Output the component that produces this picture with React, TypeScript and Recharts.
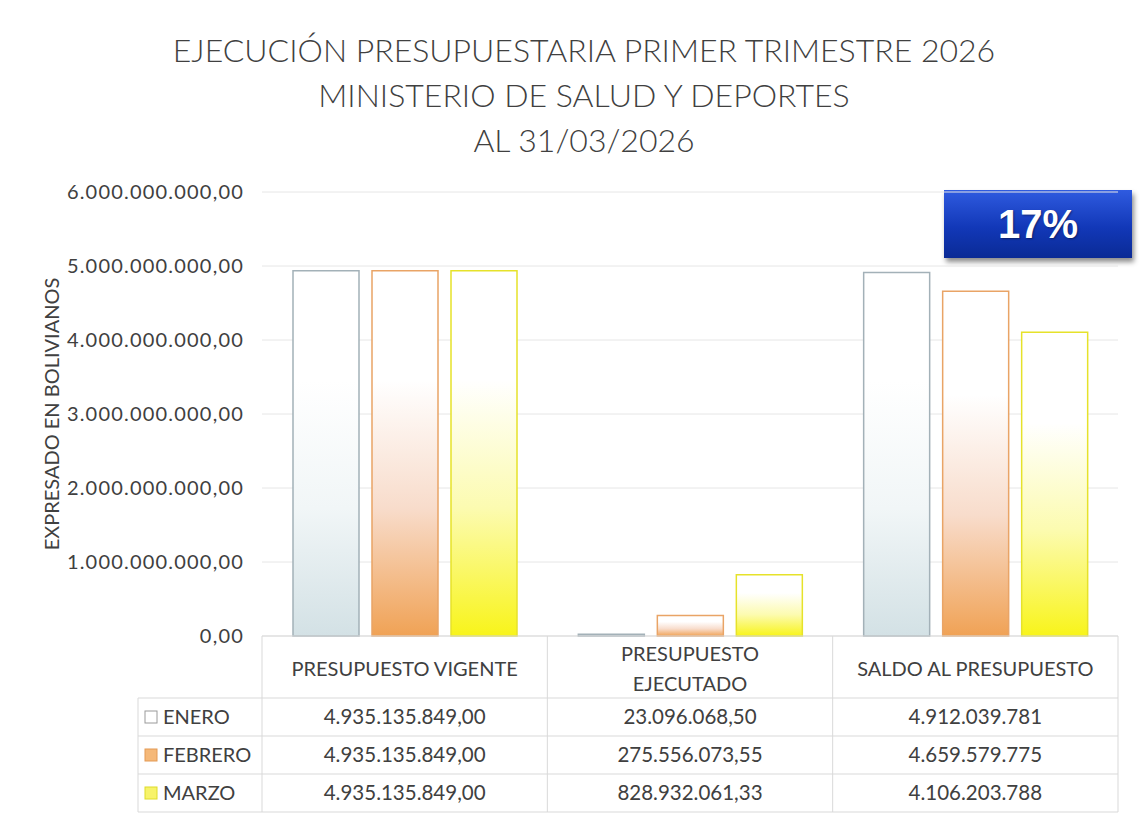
import React from "react";
import { BarChart, Bar, XAxis, YAxis, CartesianGrid } from "recharts";

const categories = ["PRESUPUESTO VIGENTE", "PRESUPUESTO\nEJECUTADO", "SALDO AL PRESUPUESTO"];
const months = ["ENERO", "FEBRERO", "MARZO"];
const enero = [4935135849.0, 23096068.5, 4912039781];
const febrero = [4935135849.0, 275556073.55, 4659579775];
const marzo = [4935135849.0, 828932061.33, 4106203788];
const yTicks = [0, 1000000000, 2000000000, 3000000000, 4000000000, 5000000000, 6000000000];
const decimals = [2, 2, 0];

const series = [
  { key: "enero", values: enero, mid: "#f1f6f7", bottom: "#d3e1e5", stroke: "#a3b1b8", mark: "#ffffff", markBorder: "#9a9a9a" },
  { key: "febrero", values: febrero, mid: "#f8dccb", bottom: "#f0a255", stroke: "#e9a466", mark: "#f5b878", markBorder: "#e39a55" },
  { key: "marzo", values: marzo, mid: "#fcfbb0", bottom: "#f8f41a", stroke: "#e6e22a", mark: "#f7f36a", markBorder: "#dedc2a" },
];

const data = categories.map((name, i) => ({
  name,
  enero: enero[i],
  febrero: febrero[i],
  marzo: marzo[i],
}));

const textColor = "#404040";
const font = "Lato, 'Open Sans', sans-serif";

function fmt(v: number, dec: number) {
  const [i, d] = v.toFixed(dec).split(".");
  const grouped = i.replace(/\B(?=(\d{3})+(?!\d))/g, ".");
  return d ? grouped + "," + d : grouped;
}

const HeaderTick = (props: any) => {
  const { x, payload } = props;
  const lines = String(payload.value).split("\n");
  const lh = 30;
  const startY = 676 - ((lines.length - 1) * lh) / 2;
  return (
    <g>
      {lines.map((l: string, k: number) => (
        <text key={k} x={x} y={startY + k * lh} textAnchor="middle" fill={textColor} fontSize={20} fontFamily={font}>
          {l}
        </text>
      ))}
    </g>
  );
};

const plotLeft = 262;
const plotRight = 1118;
const colW = (plotRight - plotLeft) / categories.length;
const rowTop = 698;
const rowH = 38;

export default function App() {
  const pct = Math.round((marzo[1] / marzo[0]) * 100);
  return (
    <div style={{ position: "absolute", left: 0, top: 0, width: 1142, height: 820, background: "#fff", fontFamily: font, color: textColor }}>
      <div style={{ position: "absolute", left: 0, width: 1168, top: 27, textAlign: "center", fontSize: 32, fontWeight: 300, lineHeight: "45px" }}>
        <div>EJECUCIÓN PRESUPUESTARIA PRIMER TRIMESTRE 2026</div>
        <div>MINISTERIO DE SALUD Y DEPORTES</div>
        <div>AL 31/03/2026</div>
      </div>
      <div
        style={{
          position: "absolute",
          left: 944,
          top: 190,
          width: 188,
          height: 68,
          background: "linear-gradient(#2f5be0, #1238b8 55%, #0a2a95)",
          boxShadow: "2px 4px 5px rgba(0,0,0,0.45)",
          color: "#fff",
          fontFamily: "'Liberation Sans', Arial, sans-serif",
          fontWeight: 700,
          fontSize: 40,
          lineHeight: "68px",
          textAlign: "center",
          textShadow: "1px 1px 2px rgba(0,0,0,0.4)",
        }}
      >
        {pct}%
      </div>
      <div style={{ position: "absolute", left: 0, top: 0 }}>
        <BarChart
          width={1142}
          height={820}
          data={data}
          margin={{ top: 192, right: 1142 - plotRight, left: 0, bottom: 122 }}
          barCategoryGap={31}
          barGap={13}
        >
          <defs>
            {series.map((s) => (
              <linearGradient key={s.key} id={"grad-" + s.key} x1="0" y1="0" x2="0" y2="1">
                <stop offset="0%" stopColor="#ffffff" />
                <stop offset="30%" stopColor="#ffffff" />
                <stop offset="65%" stopColor={s.mid} />
                <stop offset="100%" stopColor={s.bottom} />
              </linearGradient>
            ))}
          </defs>
          <CartesianGrid vertical={false} stroke="#e6e6e6" />
          <YAxis
            width={plotLeft}
            domain={[0, 6000000000]}
            ticks={yTicks}
            tickFormatter={(v: number) => fmt(v, 2)}
            axisLine={false}
            tickLine={false}
            tickSize={0}
            tickMargin={18}
            tick={{ fill: textColor, fontSize: 20, fontFamily: font, letterSpacing: 1.2 }}
            label={{
              value: "EXPRESADO EN BOLIVIANOS",
              angle: -90,
              position: "insideLeft",
              offset: 52,
              style: { textAnchor: "middle", fill: textColor, fontSize: 20, fontFamily: font },
            }}
          />
          <XAxis dataKey="name" height={62} axisLine={{ stroke: "#d9d9d9" }} tickLine={false} tick={<HeaderTick />} interval={0} />
          {series.map((s) => (
            <Bar
              key={s.key}
              dataKey={s.key}
              fill={`url(#grad-${s.key})`}
              stroke={s.stroke}
              strokeWidth={1.5}
              isAnimationActive={false}
            />
          ))}
        </BarChart>
      </div>
      <svg width={1142} height={820} style={{ position: "absolute", left: 0, top: 0, pointerEvents: "none" }}>
        {[0, 1, 2, 3].map((c) => (
          <line
            key={"v" + c}
            x1={plotLeft + c * colW}
            x2={plotLeft + c * colW}
            y1={636}
            y2={rowTop + rowH * 3}
            stroke="#d9d9d9"
          />
        ))}
        <line x1={138} x2={138} y1={rowTop} y2={rowTop + rowH * 3} stroke="#d9d9d9" />
        {[0, 1, 2, 3].map((r) => (
          <line key={"h" + r} x1={138} x2={plotRight} y1={rowTop + r * rowH} y2={rowTop + r * rowH} stroke="#d9d9d9" />
        ))}
        {series.map((s, r) => (
          <g key={s.key}>
            <rect x={145} y={rowTop + r * rowH + 13} width={12} height={12} fill={s.mark} stroke={s.markBorder} />
            <text x={163} y={rowTop + r * rowH + 26} fill={textColor} fontSize={20} fontFamily={font}>
              {months[r]}
            </text>
            {s.values.map((v, c) => (
              <text
                key={c}
                x={plotLeft + colW * (c + 0.5)}
                y={rowTop + r * rowH + 26}
                textAnchor="middle"
                fill={textColor}
                fontSize={20.5}
                fontFamily={font}
              >
                {fmt(v, decimals[c])}
              </text>
            ))}
          </g>
        ))}
      </svg>
    </div>
  );
}
